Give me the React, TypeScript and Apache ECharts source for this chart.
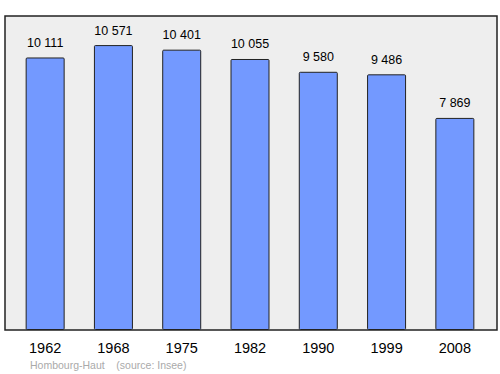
import React, { useEffect, useRef } from "react";
import * as echarts from "echarts";

const years = ["1962", "1968", "1975", "1982", "1990", "1999", "2008"];
const population = [10111, 10571, 10401, 10055, 9580, 9486, 7869];
const sourceText = "Hombourg-Haut    (source: Insee)";

const FONT = "Liberation Sans, Arial, sans-serif";
const fmt = (v: number) => String(v).replace(/\B(?=(\d{3})+(?!\d))/g, " ");

export default function App() {
  const ref = useRef<HTMLDivElement>(null);
  useEffect(() => {
    if (!ref.current) return;
    const chart = echarts.init(ref.current, undefined, { renderer: "svg" });
    chart.setOption({
      animation: false,
      backgroundColor: "#ffffff",
      graphic: [
        {
          type: "rect",
          z: -10,
          shape: { x: 5, y: 16, width: 492, height: 314 },
          style: { fill: "#eeeeee", stroke: "#222222", lineWidth: 1.5 },
        },
        {
          type: "text",
          x: 30,
          y: 359,
          style: {
            text: sourceText,
            fill: "#aaaaaa",
            fontSize: 10.5,
            fontFamily: FONT,
          },
        },
      ],
      grid: { left: 11, right: 11, top: 16, bottom: 44 },
      xAxis: {
        type: "category",
        data: years,
        axisLine: { show: false },
        axisTick: { show: false },
        axisLabel: {
          color: "#000000",
          fontSize: 14.5,
          margin: 10,
          fontFamily: FONT,
        },
      },
      yAxis: {
        type: "value",
        min: 0,
        max: 11650,
        show: false,
        splitLine: { show: false },
      },
      series: [
        {
          type: "bar",
          data: population,
          barWidth: 39,
          itemStyle: { color: "#7399ff", borderColor: "#222222", borderWidth: 1, borderRadius: 1 },
          label: {
            show: true,
            position: "top",
            distance: 8,
            color: "#000000",
            fontSize: 12.5,
            fontFamily: FONT,
            formatter: (p: any) => fmt(p.value),
          },
        },
      ],
    });
    return () => chart.dispose();
  }, []);
  return <div ref={ref} style={{ width: 500, height: 374, position: "absolute", left: 0, top: 0 }} />;
}
